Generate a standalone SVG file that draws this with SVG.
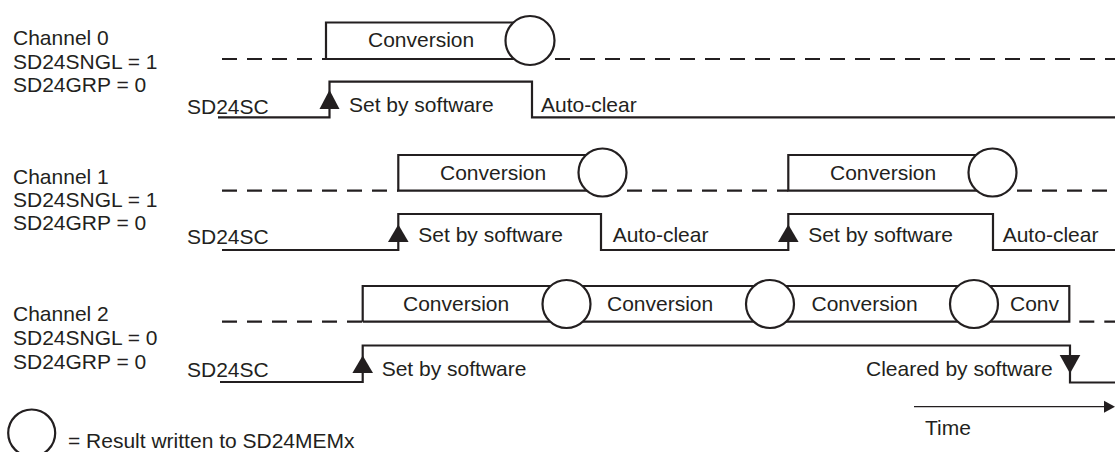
<svg xmlns="http://www.w3.org/2000/svg" width="1115" height="452" viewBox="0 0 1115 452">
<style>
text{font-family:"Liberation Sans",Arial,sans-serif;font-size:21px;fill:#231f20}
.ln{fill:none;stroke:#231f20;stroke-width:2.2;stroke-linejoin:miter}
.ds{fill:none;stroke:#231f20;stroke-width:2.2;stroke-dasharray:15 10}
.cc{fill:#fff;stroke:#231f20;stroke-width:2.2}
.ar{fill:#231f20;stroke:none}
.tm{fill:none;stroke:#231f20;stroke-width:1.3}
</style>
<rect width="1115" height="452" fill="#fff"/>

<!-- Channel 0 -->
<g id="ch0-label">
<text x="13" y="45">Channel 0</text>
<text x="13" y="68.5">SD24SNGL = 1</text>
<text x="13" y="92">SD24GRP = 0</text>
<text x="187" y="113.5">SD24SC</text>
</g>
<g id="ch0-conv">
<path class="ds" d="M222 59H326"/>
<path class="ln" d="M530 22.5H326V59H530"/>
<path class="ds" d="M555 59H1115"/>
<circle class="cc" cx="530" cy="40.5" r="24.5"/>
<text x="368" y="47">Conversion</text>
</g>
<g id="ch0-sc">
<path class="ln" d="M218 117.3H329.5V81.7H532V117.3H1115"/>
<polygon class="ar" points="329.5,90 319.5,109 339.5,109"/>
<text x="349" y="112">Set by software</text>
<text x="541" y="112">Auto-clear</text>
</g>

<!-- Channel 1 -->
<g id="ch1-label">
<text x="13" y="183.5">Channel 1</text>
<text x="13" y="206.5">SD24SNGL = 1</text>
<text x="13" y="229.5">SD24GRP = 0</text>
<text x="187" y="243.5">SD24SC</text>
</g>
<g id="ch1-conv">
<path class="ds" d="M222 190.7H398.3"/>
<path class="ln" d="M602.5 155H398.3V190.7H602.5"/>
<path class="ds" d="M627 190.7H788.3"/>
<path class="ln" d="M992.5 155H788.3V190.7H992.5"/>
<path class="ds" d="M1017 190.7H1115"/>
<circle class="cc" cx="602.5" cy="172.5" r="24"/>
<circle class="cc" cx="992.5" cy="172.5" r="24"/>
<text x="440" y="179.5">Conversion</text>
<text x="830" y="179.5">Conversion</text>
</g>
<g id="ch1-sc">
<path class="ln" d="M222 250H398.3V214H601V250H788.3V214H993V250H1115"/>
<polygon class="ar" points="398.3,224.5 388,242 408.6,242"/>
<polygon class="ar" points="788.3,224.5 778,242 798.6,242"/>
<text x="418.3" y="242">Set by software</text>
<text x="612.7" y="242">Auto-clear</text>
<text x="808.3" y="242">Set by software</text>
<text x="1002.7" y="242">Auto-clear</text>
</g>

<!-- Channel 2 -->
<g id="ch2-label">
<text x="13" y="321">Channel 2</text>
<text x="13" y="345">SD24SNGL = 0</text>
<text x="13" y="368.5">SD24GRP = 0</text>
<text x="187" y="377">SD24SC</text>
</g>
<g id="ch2-conv">
<path class="ds" d="M222 321.7H362.7"/>
<path class="ln" d="M362.7 321.7V286H1069.3V321.7H362.7"/>
<path class="ds" d="M1069.3 321.7H1115" stroke-dashoffset="-10"/>
<circle class="cc" cx="566.5" cy="304" r="24"/>
<circle class="cc" cx="770" cy="304" r="24"/>
<circle class="cc" cx="974" cy="304" r="24"/>
<text x="403" y="311">Conversion</text>
<text x="607" y="311">Conversion</text>
<text x="811.5" y="311">Conversion</text>
<text x="1010" y="311">Conv</text>
</g>
<g id="ch2-sc">
<path class="ln" d="M220 382H362.7V345.5H1070V382.5H1115"/>
<polygon class="ar" points="362.7,355.5 352.4,373 373,373"/>
<polygon class="ar" points="1070,373.5 1059.7,355 1080.3,355"/>
<text x="381.7" y="375.5">Set by software</text>
<text x="866" y="376">Cleared by software</text>
</g>

<!-- Legend -->
<g id="legend">
<circle class="cc" cx="31.7" cy="433" r="23.5"/>
<text x="68" y="448">= Result written to SD24MEMx</text>
</g>

<!-- Connectors -->
<g id="connectors">
<path class="tm" d="M914 406.7H1106"/>
<polygon class="ar" points="1115,406.7 1104,400.7 1104,412.7"/>
<text x="925" y="435">Time</text>
</g>
</svg>
